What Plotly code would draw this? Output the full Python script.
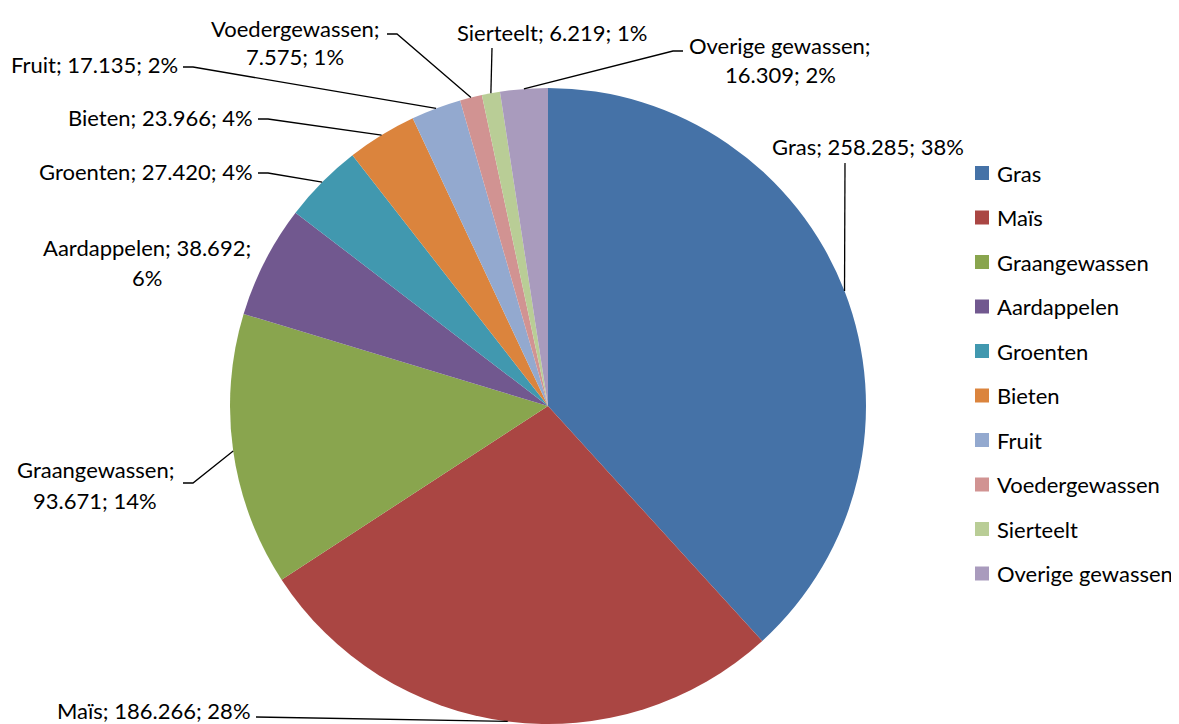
import math
import plotly.graph_objects as go

# data
crops = ["Gras", "Maïs", "Graangewassen", "Aardappelen", "Groenten", "Bieten",
         "Fruit", "Voedergewassen", "Sierteelt", "Overige gewassen"]
areas = [258.285, 186.266, 93.671, 38.692, 27.420, 23.966, 17.135, 7.575, 6.219, 16.309]
area_labels = ["258.285", "186.266", "93.671", "38.692", "27.420", "23.966",
               "17.135", "7.575", "6.219", "16.309"]
pct_labels = ["38%", "28%", "14%", "6%", "4%", "4%", "2%", "1%", "1%", "2%"]
colors = ["#4572A7", "#AA4643", "#89A54E", "#71588F", "#4198AF", "#DB843D",
          "#93A9CF", "#D19392", "#B9CD96", "#A99BBD"]

# the page body has an 8px margin, so the figure is a bit smaller than the window
OFF = 8
W, H = 1179 - OFF, 724 - OFF
FONT = "Lato"
FS = 22

# pie geometry in window pixels
CX, CY, R = 548, 406, 318

# label layout: text lines (x, y, anchor) and leader start points (window pixels)
label_layout = [
    dict(lines=[(868, 147, "center")], leader=[(845, 163)]),
    dict(lines=[(253, 710, "right")], leader=[(256, 717)]),
    dict(lines=[(95, 470, "center"), (95, 500, "center")], leader=[(183, 483), (193, 483)]),
    dict(lines=[(147, 248, "center"), (147, 277, "center")], leader=[]),
    dict(lines=[(255, 171, "right")], leader=[(258, 173), (268, 173)]),
    dict(lines=[(255, 117, "right")], leader=[(258, 119), (268, 119)]),
    dict(lines=[(180, 64, "right")], leader=[(183, 67), (193, 67)]),
    dict(lines=[(295, 28, "center"), (295, 57, "center")], leader=[(387, 34), (397, 34)]),
    dict(lines=[(552, 33, "center")], leader=[(492, 48)]),
    dict(lines=[(780, 45, "center"), (780, 75, "center")], leader=[(683, 51), (673, 51)]),
]


def px(x):
    return (x - OFF) / W


def py(y):
    return 1 - (y - OFF) / H


fig = go.Figure()
fig.add_trace(go.Pie(
    labels=crops,
    values=areas,
    sort=False,
    direction="clockwise",
    rotation=0,
    marker=dict(colors=colors, line=dict(width=0)),
    textinfo="none",
    hoverinfo="label+value+percent",
    showlegend=False,
    domain=dict(x=[px(CX - R), px(CX + R)], y=[0, py(CY - R)]),
))

total = sum(areas)
cum = 0.0
for i, name in enumerate(crops):
    frac = areas[i] / total
    mid = (cum + frac / 2) * 2 * math.pi
    cum += frac
    ex = CX + R * math.sin(mid)
    ey = CY - R * math.cos(mid)
    pct = pct_labels[i]
    lay = label_layout[i]
    if len(lay["lines"]) == 1:
        texts = [f"{name}; {area_labels[i]}; {pct}"]
    elif name == "Aardappelen":
        texts = [f"{name}; {area_labels[i]};", pct]
    else:
        texts = [f"{name};", f"{area_labels[i]}; {pct}"]
    for (tx, ty, anchor), t in zip(lay["lines"], texts):
        fig.add_annotation(
            x=px(tx), y=py(ty), xref="paper", yref="paper",
            text=t, showarrow=False, xanchor=anchor, yanchor="middle",
            font=dict(family=FONT, size=FS, color="black"),
        )
    pts = lay["leader"]
    if pts:
        path = "M " + " L ".join(f"{px(x)},{py(y)}" for x, y in pts + [(ex, ey)])
        fig.add_shape(type="path", xref="paper", yref="paper", path=path,
                      line=dict(color="black", width=1.3))

# legend drawn by hand to match spacing
for i, name in enumerate(crops):
    ly = 173 + 44.5 * i
    fig.add_shape(type="rect", xref="paper", yref="paper",
                  x0=px(975), x1=px(989), y0=py(ly - 7), y1=py(ly + 7),
                  fillcolor=colors[i], line=dict(width=0))
    fig.add_annotation(
        x=px(995), y=py(ly), xref="paper", yref="paper",
        text=name, showarrow=False, xanchor="left", yanchor="middle",
        font=dict(family=FONT, size=FS, color="black"),
    )

fig.update_layout(
    width=W, height=H,
    margin=dict(l=0, r=0, t=0, b=0),
    paper_bgcolor="white",
    plot_bgcolor="white",
    showlegend=False,
)

fig.write_html("out.html")
